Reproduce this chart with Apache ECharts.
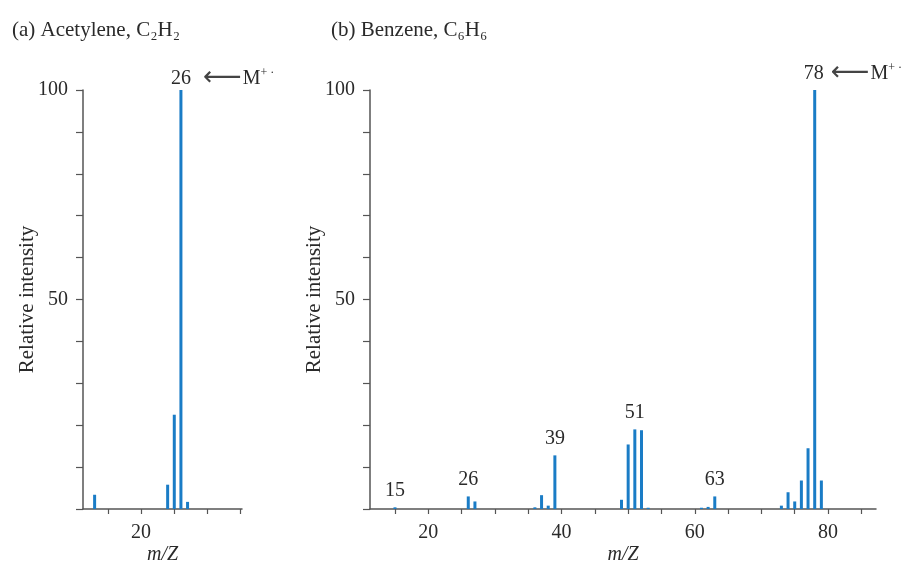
<!DOCTYPE html>
<html>
<head>
<meta charset="utf-8">
<script src="https://cdn.jsdelivr.net/npm/echarts@6/dist/echarts.min.js"></script>
<style>html,body{margin:0;padding:0;background:#fff}#c{width:915px;height:569px}</style>
</head>
<body>
<div id="c"></div>
<script>
// Acetylene spectrum
const acetyleneMz  = [13, 24, 25, 26, 27];
const acetyleneInt = [3.4, 5.8, 22.5, 100, 1.7];
const acetyleneLabeled = [26];
// Benzene spectrum
const benzeneMz  = [15, 26, 27, 36, 37, 38, 39, 49, 50, 51, 52, 53, 61, 62, 63, 73, 74, 75, 76, 77, 78, 79];
const benzeneInt = [0.4, 3.0, 1.8, 0.4, 3.3, 0.8, 12.8, 2.2, 15.4, 19.0, 18.8, 0.3, 0.3, 0.5, 3.0, 0.8, 4.0, 1.8, 6.8, 14.5, 100, 6.8];
const benzeneLabeled = [15, 26, 39, 51, 63, 78];
const molecularIon = {a: 26, b: 78};
// Axis ticks
const xTicksA = [15, 20, 25, 30, 35];
const xLabelsA = [20];
const xTicksB = [15, 20, 25, 30, 35, 40, 45, 50, 55, 60, 65, 70, 75, 80, 85];
const xLabelsB = [20, 40, 60, 80];

const FONT = '"Liberation Serif", "DejaVu Serif", serif';
const AXIS = '#555';
const TXT = '#2a2a2a';
const BLUE = '#1a7cc6';
const FS = 20;

function buildData(mz, ints, labeled, mIon, ionOffset, gap) {
  return mz.map((m, i) => {
    const item = {value: [m, ints[i]]};
    if (labeled.includes(m)) {
      if (m === mIon) {
        item.label = {
          show: true, position: 'top', align: 'left', offset: ionOffset,
          formatter: m + '{g|}{a|\u27F5}{m|M}{s|+ \u00B7}',
          rich: {
            g: {width: gap, fontSize: FS},
            a: {fontSize: 27, fontFamily: '"DejaVu Sans", sans-serif', color: '#444', height: 22, lineHeight: 22, padding: [0, 1, 2, 0]},
            m: {fontSize: FS, fontFamily: FONT, color: TXT},
            s: {fontSize: 12, fontFamily: FONT, color: TXT, padding: [0, 0, 12, 0]}
          }
        };
      } else {
        item.label = {show: true, position: 'top', offset: [0, -2], formatter: String(m)};
      }
    }
    return item;
  });
}

function xAxis(idx, min, max, ticks, labels) {
  return {
    type: 'value', gridIndex: idx, min: min, max: max,
    name: 'm/Z', nameLocation: 'middle', nameGap: 36, nameMoveOverlap: false,
    nameTextStyle: {fontFamily: FONT, fontSize: FS, fontStyle: 'italic', color: TXT},
    axisLine: {lineStyle: {color: AXIS, width: 1.5}},
    axisTick: {show: true, length: 5, customValues: ticks, lineStyle: {color: AXIS, width: 1.2}},
    axisLabel: {customValues: labels, fontFamily: FONT, fontSize: FS, color: TXT, margin: 14},
    splitLine: {show: false}
  };
}
function yAxis(idx) {
  return {
    type: 'value', gridIndex: idx, min: 0, max: 100, interval: 50,
    name: 'Relative intensity', nameLocation: 'middle', nameGap: 45, nameMoveOverlap: false,
    nameTextStyle: {fontFamily: FONT, fontSize: 21, color: TXT},
    axisLine: {show: true, lineStyle: {color: AXIS, width: 1.5}},
    axisTick: {show: true, length: 7, lineStyle: {color: AXIS, width: 1.2}},
    minorTick: {show: true, splitNumber: 5, length: 7, lineStyle: {color: AXIS, width: 1.2}},
    axisLabel: {fontFamily: FONT, fontSize: FS, color: TXT, margin: 15, showMinLabel: false,
      formatter: v => (v === 0 ? '' : String(v))},
    splitLine: {show: false}, minorSplitLine: {show: false}
  };
}

const labelStyle = {fontFamily: FONT, fontSize: FS, color: TXT};

const chart = echarts.init(document.getElementById('c'), null, {renderer: 'canvas'});
chart.setOption({
  backgroundColor: '#ffffff',
  animation: false,
  title: [
    {text: '(a) Acetylene, C\u2082H\u2082', left: 7, top: 15,
     textStyle: {fontFamily: FONT, fontSize: 21, fontWeight: 'normal', color: TXT}},
    {text: '(b) Benzene, C\u2086H\u2086', left: 326, top: 15,
     textStyle: {fontFamily: FONT, fontSize: 21, fontWeight: 'normal', color: TXT}}
  ],
  grid: [
    {left: 83, top: 90, width: 159, height: 419, outerBoundsMode: 'none', containLabel: false},
    {left: 370, top: 90, width: 506, height: 419, outerBoundsMode: 'none', containLabel: false}
  ],
  xAxis: [xAxis(0, 11.25, 35.2, xTicksA, xLabelsA), xAxis(1, 11.25, 87.2, xTicksB, xLabelsB)],
  yAxis: [yAxis(0), yAxis(1)],
  series: [
    {type: 'bar', xAxisIndex: 0, yAxisIndex: 0, barWidth: 3, itemStyle: {color: BLUE},
     label: labelStyle, data: buildData(acetyleneMz, acetyleneInt, acetyleneLabeled, molecularIon.a, [-10, 6], 12)},
    {type: 'bar', xAxisIndex: 1, yAxisIndex: 1, barWidth: 3, itemStyle: {color: BLUE},
     label: labelStyle, data: buildData(benzeneMz, benzeneInt, benzeneLabeled, molecularIon.b, [-11, 1], 7)}
  ]
});
</script>
</body>
</html>
